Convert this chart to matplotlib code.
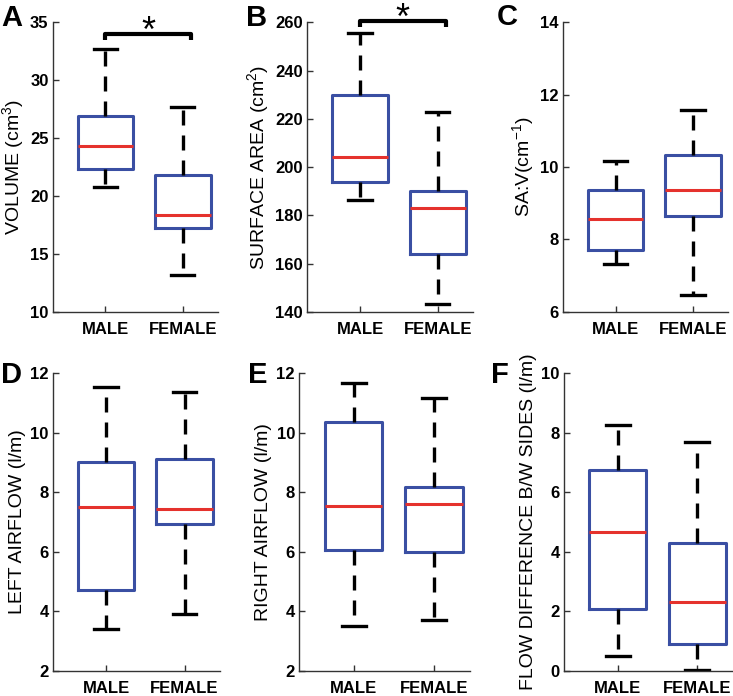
import matplotlib
matplotlib.use('Agg')
import matplotlib.pyplot as plt

plt.rcParams['font.family'] = ['Liberation Sans', 'DejaVu Sans']
plt.rcParams['mathtext.fontset'] = 'custom'
plt.rcParams['mathtext.rm'] = 'Liberation Sans'
plt.rcParams['mathtext.it'] = 'Liberation Sans:italic'
plt.rcParams['mathtext.bf'] = 'Liberation Sans:bold'

groups = ['MALE', 'FEMALE']

# box stats per panel: (whislo, q1, med, q3, whishi) for male, female
volume = [(20.8, 22.3, 24.3, 26.95, 32.65), (13.15, 17.2, 18.4, 21.85, 27.65)]
surface_area = [(186.5, 193.8, 204.1, 229.9, 255.6), (143.4, 164.1, 183.0, 190.1, 222.8)]
sa_v = [(7.33, 7.7, 8.57, 9.37, 10.16), (6.46, 8.64, 9.36, 10.34, 11.58)]
left_flow = [(3.41, 4.72, 7.52, 9.0, 11.52), (3.9, 6.94, 7.43, 9.12, 11.38)]
right_flow = [(3.52, 6.06, 7.53, 10.36, 11.66), (3.72, 6.0, 7.6, 8.16, 11.15)]
flow_diff = [(0.5, 2.08, 4.65, 6.75, 8.26), (0.03, 0.92, 2.3, 4.28, 7.7)]

# significance bracket height (data units), None if no bracket
sig_volume = 34.0
sig_surface = 260.6

panels = [
    ('A', volume, 'VOLUME (cm$^3$)', (10, 35), [10, 15, 20, 25, 30, 35], sig_volume),
    ('B', surface_area, 'SURFACE AREA (cm$^2$)', (140, 260), [140, 160, 180, 200, 220, 240, 260], sig_surface),
    ('C', sa_v, 'SA:V(cm$^{-1}$)', (6, 14), [6, 8, 10, 12, 14], None),
    ('D', left_flow, 'LEFT AIRFLOW (l/m)', (2, 12), [2, 4, 6, 8, 10, 12], None),
    ('E', right_flow, 'RIGHT AIRFLOW (l/m)', (2, 12), [2, 4, 6, 8, 10, 12], None),
    ('F', flow_diff, 'FLOW DIFFERENCE B/W SIDES (l/m)', (0, 10), [0, 2, 4, 6, 8, 10], None),
]

# axes rectangles [left, bottom, width, height] in figure fraction
rects = [
    [0.072, 0.552, 0.225, 0.416],
    [0.419, 0.552, 0.226, 0.416],
    [0.768, 0.552, 0.225, 0.416],
    [0.072, 0.036, 0.228, 0.428],
    [0.408, 0.036, 0.233, 0.428],
    [0.769, 0.036, 0.231, 0.428],
]
letter_pos = [(0.002, 0.9626), (0.336, 0.9626), (0.678, 0.964),
              (0.002, 0.4497), (0.338, 0.4497), (0.670, 0.4497)]

blue = '#3A4FA3'
red = '#E5322D'

fig = plt.figure(figsize=(7.33, 6.96), dpi=100)

for (letter, data, ylabel, ylim, yticks, sig), rect, lp in zip(panels, rects, letter_pos):
    ax = fig.add_axes(rect)
    stats = []
    for name, (lo, q1, med, q3, hi) in zip(groups, data):
        stats.append(dict(label=name, whislo=lo, q1=q1, med=med, q3=q3, whishi=hi, fliers=[]))
    ax.bxp(stats, positions=[1, 2], widths=0.72, capwidths=0.3, showfliers=False,
           boxprops=dict(color=blue, linewidth=2.2),
           medianprops=dict(color=red, linewidth=2.2),
           whiskerprops=dict(color='black', linewidth=2.4, linestyle=(0, (4.5, 3))),
           capprops=dict(color='black', linewidth=2.4))
    ax.set_xlim(0.32, 2.45)
    ax.set_ylim(*ylim)
    ax.set_yticks(yticks)
    ax.spines['top'].set_visible(False)
    ax.spines['right'].set_visible(False)
    for s in ['left', 'bottom']:
        ax.spines[s].set_color('#333333')
        ax.spines[s].set_linewidth(1.0)
    ax.tick_params(direction='in', length=4, width=1.0, color='#333333', labelsize=12)
    ax.tick_params(axis='y', pad=3)
    ax.tick_params(axis='x', pad=7)
    for lab in ax.get_xticklabels() + ax.get_yticklabels():
        lab.set_fontweight('bold')
    ax.set_ylabel(ylabel, fontsize=14, labelpad=3)
    if sig is not None:
        leg = 0.022 * (ylim[1] - ylim[0])
        ax.plot([1, 1, 2.1, 2.1], [sig - leg, sig, sig, sig - leg],
                color='black', linewidth=3, clip_on=False,
                solid_joinstyle='round', solid_capstyle='butt')
        ax.annotate('*', xy=(1.55, sig), xytext=(0, -5.5), textcoords='offset points',
                    ha='center', va='baseline', fontsize=26, annotation_clip=False)
    fig.text(lp[0], lp[1], letter, fontsize=21, fontweight='bold', va='baseline', ha='left')

fig.savefig('out.png', dpi=100)
